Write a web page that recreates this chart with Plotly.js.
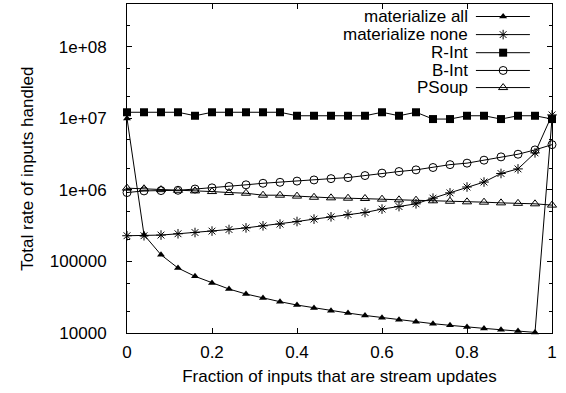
<!DOCTYPE html>
<html>
<head>
<meta charset="utf-8">
<script src="https://cdn.plot.ly/plotly-3.0.1.min.js"></script>
<style>
html,body{margin:0;padding:0;background:#fff;}
#chart{width:566px;height:393px;}
</style>
</head>
<body>
<div id="chart"></div>
<script>
// ---- data ----
var fraction = [0, 0.04, 0.08, 0.12, 0.16, 0.20, 0.24, 0.28, 0.32, 0.36, 0.40, 0.44, 0.48,
                0.52, 0.56, 0.60, 0.64, 0.68, 0.72, 0.76, 0.80, 0.84, 0.88, 0.92, 0.96, 1.0];

var materializeAll = [1.0e7, 2.36e5, 1.24e5, 8.1e4, 6.2e4, 5.0e4, 4.12e4, 3.51e4, 3.08e4, 2.74e4,
                      2.46e4, 2.24e4, 2.05e4, 1.90e4, 1.76e4, 1.64e4, 1.53e4, 1.44e4, 1.35e4, 1.28e4,
                      1.21e4, 1.16e4, 1.11e4, 1.07e4, 1.02e4, 1.0e7];

var materializeNone = [2.29e5, 2.29e5, 2.34e5, 2.44e5, 2.54e5, 2.66e5, 2.80e5, 2.95e5, 3.15e5, 3.33e5,
                       3.62e5, 3.91e5, 4.21e5, 4.54e5, 4.84e5, 5.40e5, 5.86e5, 6.40e5, 7.68e5, 9.1e5,
                       1.10e6, 1.29e6, 1.70e6, 1.97e6, 3.3e6, 1.12e7];

var rInt = [1.22e7, 1.22e7, 1.22e7, 1.22e7, 1.09e7, 1.22e7, 1.22e7, 1.22e7, 1.22e7, 1.22e7,
            1.09e7, 1.09e7, 1.09e7, 1.09e7, 1.09e7, 1.22e7, 1.09e7, 1.22e7, 9.8e6, 9.8e6,
            1.09e7, 1.09e7, 9.8e6, 1.09e7, 1.09e7, 9.8e6];

var bInt = [9.2e5, 9.7e5, 9.8e5, 9.9e5, 1.03e6, 1.07e6, 1.12e6, 1.18e6, 1.24e6, 1.28e6,
            1.33e6, 1.38e6, 1.44e6, 1.49e6, 1.59e6, 1.72e6, 1.81e6, 1.91e6, 2.06e6, 2.26e6,
            2.37e6, 2.61e6, 2.9e6, 3.16e6, 3.63e6, 4.3e6];

var pSoup = [1.06e6, 1.04e6, 1.01e6, 9.9e5, 9.7e5, 9.5e5, 9.2e5, 9.0e5, 8.45e5, 8.45e5,
             8.2e5, 7.9e5, 7.76e5, 7.67e5, 7.6e5, 7.43e5, 7.28e5, 7.2e5, 7.05e5, 6.95e5,
             6.82e5, 6.75e5, 6.6e5, 6.5e5, 6.4e5, 6.14e5];

var seriesNames = ["materialize all", "materialize none", "R-Int", "B-Int", "PSoup"];

var yTickVals = [1e4, 1e5, 1e6, 1e7, 1e8];
var yTickText = ["10000", "100000", "1e+06", "1e+07", "1e+08"];
var yMinorVals = [2e4, 5e4, 2e5, 5e5, 2e6, 5e6, 2e7, 5e7, 2e8];
var xTickVals = [0, 0.2, 0.4, 0.6, 0.8, 1];
var xTickText = ["0", "0.2", "0.4", "0.6", "0.8", "1"];

var xTitle = "Fraction of inputs that are stream updates";
var yTitle = "Total rate of inputs handled";

// legend layout (overlay axes in [0,1])
var legendLineX = [0.821, 0.948];
var legendMarkX = 0.885;
var legendY = [0.962, 0.907, 0.852, 0.798, 0.746];
var legendTextX = 0.807;

// ---- styles ----
var FONT = "Liberation Sans, Arial, sans-serif";
var styles = [
  {symbol: "triangle-up", size: 7, color: "#000", line: {width: 0}},
  {symbol: "asterisk-open", size: 8, color: "#000", line: {width: 1, color: "#000"}},
  {symbol: "square", size: 8, color: "#000", line: {width: 0}},
  {symbol: "circle-open", size: 8, color: "#000", line: {width: 1, color: "#000"}},
  {symbol: "triangle-up-open", size: 8, color: "#000", line: {width: 1, color: "#000"}}
];
var allSeries = [materializeAll, materializeNone, rInt, bInt, pSoup];

var traces = [];
allSeries.forEach(function (ys, i) {
  traces.push({
    x: fraction, y: ys, type: "scatter", mode: "lines+markers",
    name: seriesNames[i], showlegend: false,
    line: {color: "#000", width: 1},
    marker: styles[i],
    cliponaxis: false
  });
});
// legend samples
allSeries.forEach(function (ys, i) {
  traces.push({
    x: legendLineX, y: [legendY[i], legendY[i]], xaxis: "x2", yaxis: "y2",
    type: "scatter", mode: "lines", showlegend: false, hoverinfo: "skip",
    line: {color: "#000", width: 1}
  });
  traces.push({
    x: [legendMarkX], y: [legendY[i]], xaxis: "x2", yaxis: "y2",
    type: "scatter", mode: "markers", showlegend: false, hoverinfo: "skip",
    marker: styles[i]
  });
});

var annotations = seriesNames.map(function (n, i) {
  return {text: n, xref: "paper", yref: "paper", x: legendTextX, y: legendY[i],
          xanchor: "right", yanchor: "middle", showarrow: false,
          font: {family: FONT, size: 17, color: "#000"}};
});
annotations.push({text: yTitle, xref: "paper", yref: "paper", x: -0.235, y: 0.5,
  xanchor: "center", yanchor: "middle", textangle: -90, showarrow: false,
  font: {family: FONT, size: 17, color: "#000"}});

var layout = {
  width: 566, height: 393,
  margin: {l: 127, r: 14, t: 4, b: 60, pad: 0},
  paper_bgcolor: "#fff", plot_bgcolor: "#fff",
  showlegend: false,
  font: {family: FONT, size: 17, color: "#000"},
  xaxis: {
    range: [0, 1], tickmode: "array", tickvals: xTickVals, ticktext: xTickText,
    ticks: "inside", ticklen: 5, tickwidth: 1, tickcolor: "#000",
    showline: true, linecolor: "#000", linewidth: 1, mirror: "ticks",
    showgrid: false, zeroline: false, ticklabelstandoff: 4,
    title: {text: xTitle, font: {family: FONT, size: 17}, standoff: 8}
  },
  yaxis: {
    type: "log", range: [4, 8.6], tickmode: "array", tickvals: yTickVals, ticktext: yTickText,
    ticks: "inside", ticklen: 5, tickwidth: 1, tickcolor: "#000",
    showline: true, linecolor: "#000", linewidth: 1, mirror: "ticks",
    showgrid: false, zeroline: false, ticklabelstandoff: 16,
    minor: {tickmode: "array", tickvals: yMinorVals, ticks: "inside", ticklen: 3, tickcolor: "#000", showgrid: false}
  },
  xaxis2: {overlaying: "x", range: [0, 1], visible: false, fixedrange: true},
  yaxis2: {overlaying: "y", range: [0, 1], visible: false, fixedrange: true},
  annotations: annotations
};

Plotly.newPlot("chart", traces, layout, {staticPlot: true, displayModeBar: false});
</script>
</body>
</html>
